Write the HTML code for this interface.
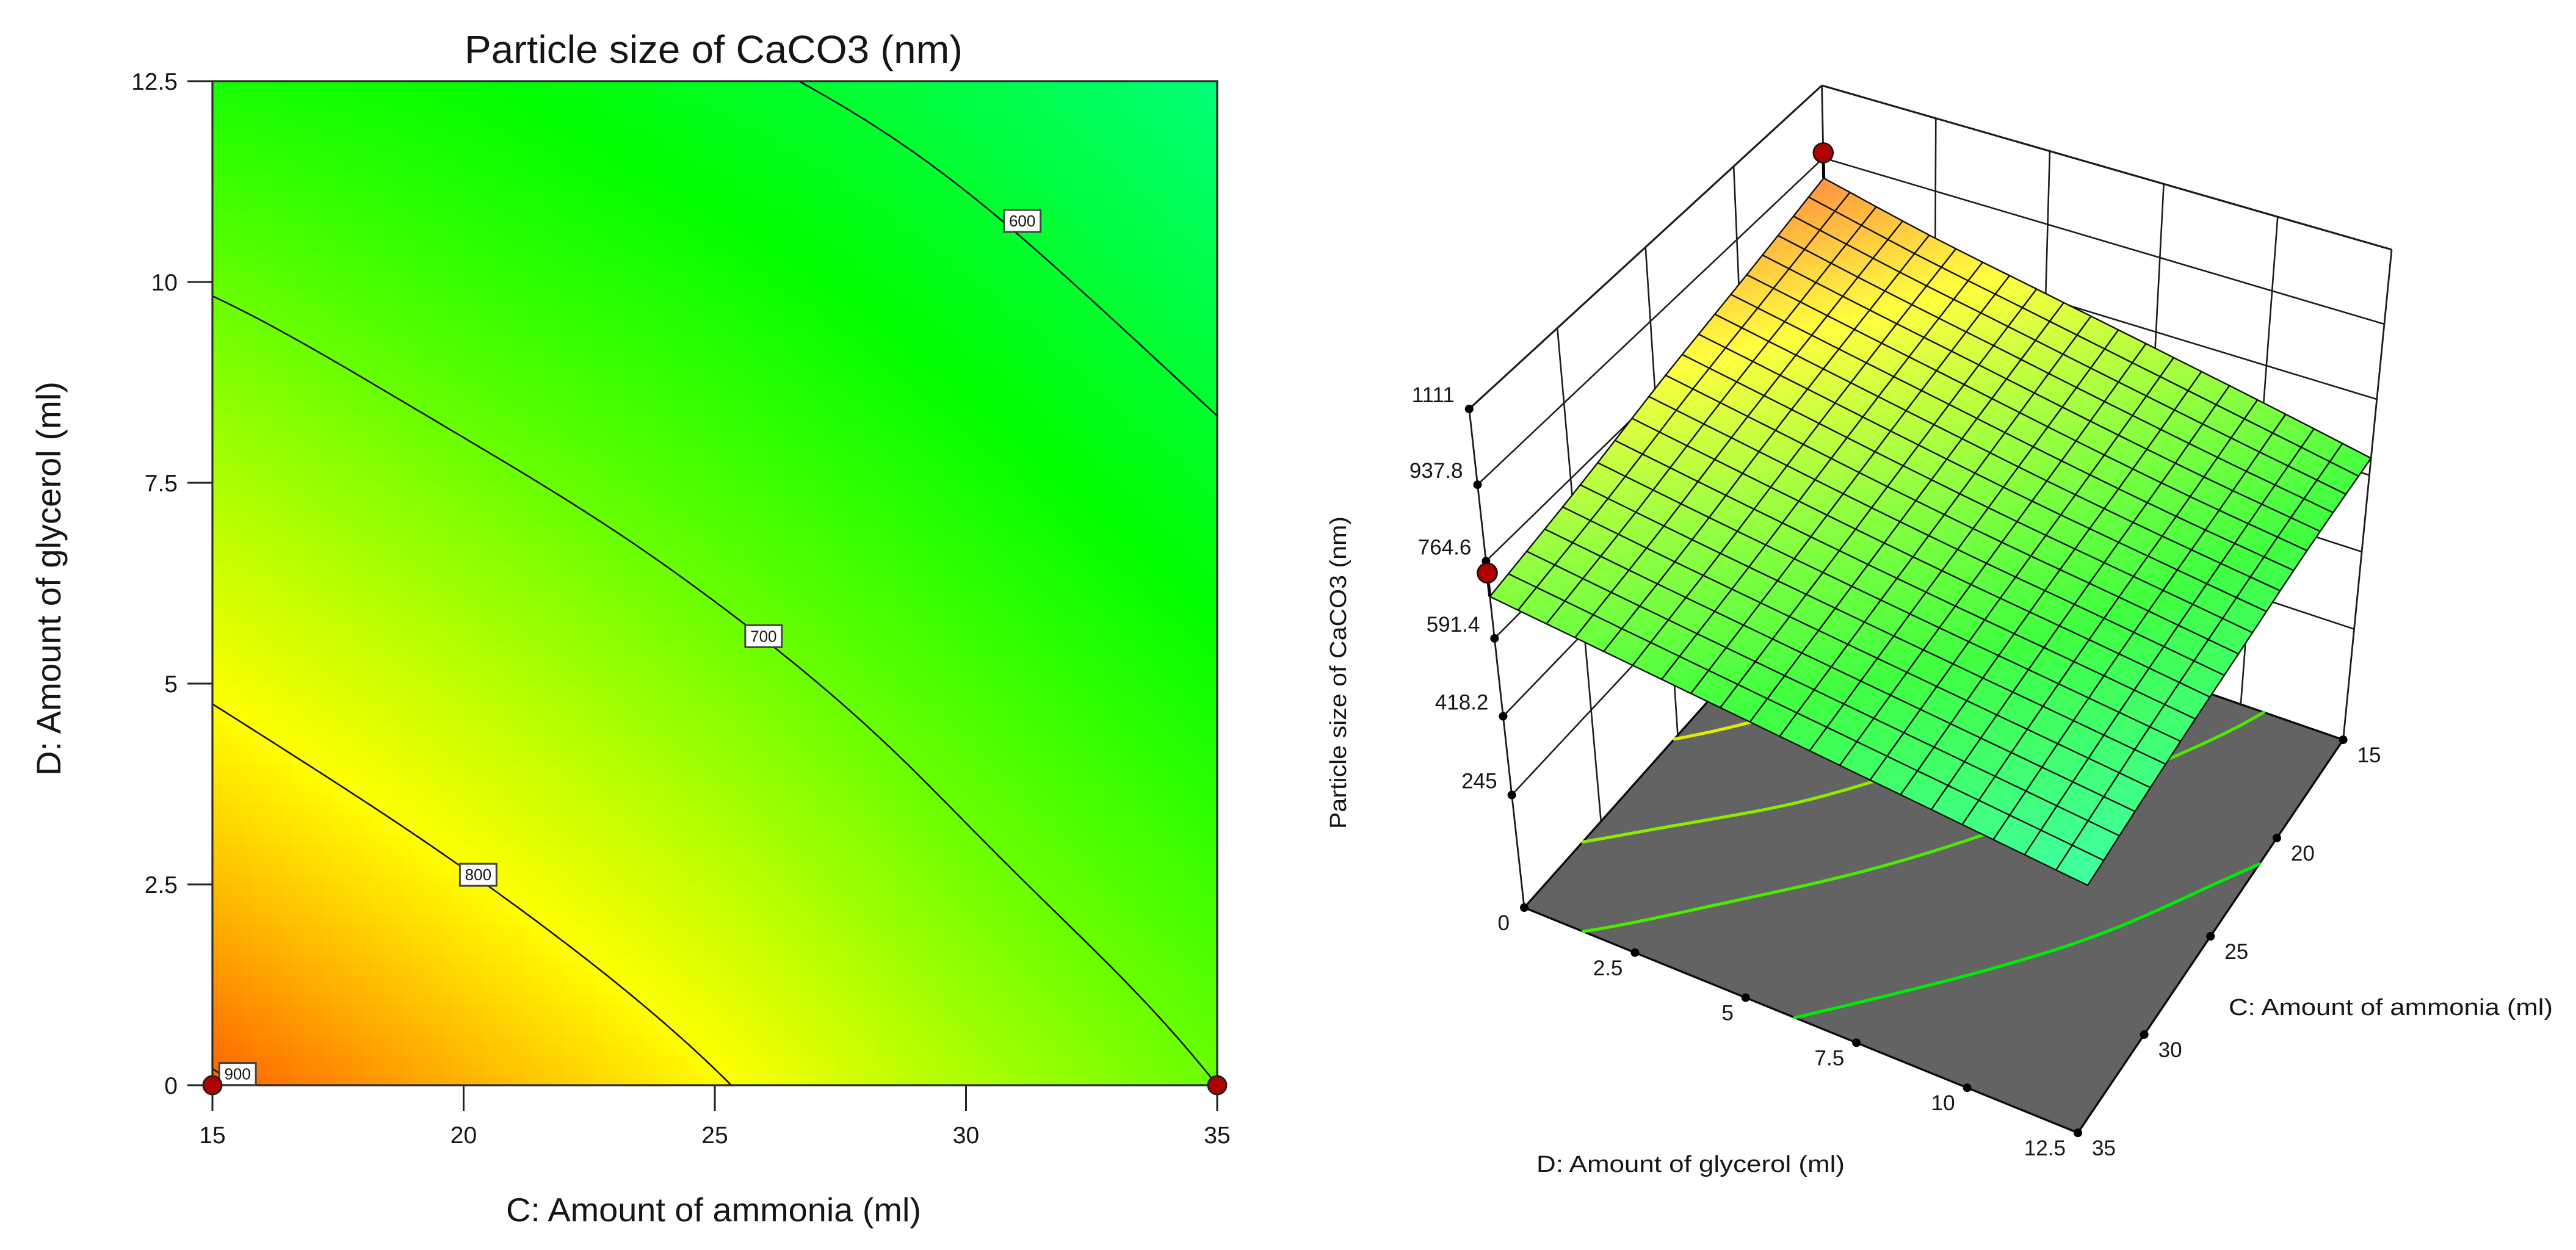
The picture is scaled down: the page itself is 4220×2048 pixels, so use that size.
<!DOCTYPE html>
<html lang="en">
<head>
<meta charset="utf-8">
<title>Particle size of CaCO3 response surface</title>
<style>
  html, body { margin: 0; padding: 0; background: #fff; }
  svg { display: block; }
  text { font-family: "Liberation Sans", sans-serif; fill: #151515; }
</style>
</head>
<body>
<svg id="chart" xmlns="http://www.w3.org/2000/svg" width="4220" height="2048" viewBox="0 0 4220 2048">
  <g id="contour-plot"></g>
  <g id="surface-plot"></g>
  <text x="761" y="103" font-size="64" textLength="816" lengthAdjust="spacingAndGlyphs">Particle size of CaCO3 (nm)</text>
  <text x="829" y="2001" font-size="55" textLength="680" lengthAdjust="spacingAndGlyphs">C: Amount of ammonia (ml)</text>
  <text transform="translate(99 1271) rotate(-90)" font-size="56" textLength="646" lengthAdjust="spacingAndGlyphs">D: Amount of glycerol (ml)</text>
  <text x="2517" y="1920" font-size="38" textLength="505" lengthAdjust="spacingAndGlyphs">D: Amount of glycerol (ml)</text>
  <text x="3651" y="1663" font-size="38" textLength="531" lengthAdjust="spacingAndGlyphs">C: Amount of ammonia (ml)</text>
  <text transform="translate(2205 1358) rotate(-90)" font-size="38" textLength="512" lengthAdjust="spacingAndGlyphs">Particle size of CaCO3 (nm)</text>
</svg>
<script>
// ---- data ----
const cValues = [15, 20, 25, 30, 35];
const dValues = [0, 2.5, 5, 7.5, 10, 12.5];
const sizeAtD0    = [905, 852.6, 803.5, 747, 700];
const sizeAtD2_5  = [845, 803.8, 760, 710.5, 670];
const sizeAtD5    = [795, 756.9, 716.5, 677, 640];
const sizeAtD7_5  = [746, 710, 677.5, 645, 610];
const sizeAtD10   = [696.5, 667.5, 643.5, 614, 580];
const sizeAtD12_5 = [645, 632, 608, 583, 550];
const sizeGrid = [sizeAtD0, sizeAtD2_5, sizeAtD5, sizeAtD7_5, sizeAtD10, sizeAtD12_5];
const cTickLabels = ["15", "20", "25", "30", "35"];
const dTickValues = [0, 2.5, 5, 7.5, 10, 12.5];
const dTickLabels = ["0", "2.5", "5", "7.5", "10", "12.5"];
const zTickValues = [0, 245, 418.2, 591.4, 764.6, 937.8, 1111];
const zTickLabels = ["0", "245", "418.2", "591.4", "764.6", "937.8", "1111"];
const contourLevels = [900, 800, 700, 600];
const contourLabelC = [15.5, 20.29, 25.97, 31.12];
const contourLabelD = [0.14, 2.62, 5.59, 10.76];
const floorLevels = [795, 732, 683, 624];
const designC = [15, 35];
const designD = [0, 0];
const designSize = [965, 753];
const colorLevels = [970, 800, 630, 460];

// ---- shared helpers ----
const NS = 'http://www.w3.org/2000/svg';
function add(parent, tag, attrs, txt) {
  const el = document.createElementNS(NS, tag);
  for (const k in attrs) el.setAttribute(k, attrs[k]);
  if (txt !== undefined) el.textContent = txt;
  parent.appendChild(el);
  return el;
}
const pts = a => a.map(p => p[0].toFixed(1) + ',' + p[1].toFixed(1)).join(' ');
const lerp2 = (a, b, t) => [a[0] + (b[0] - a[0]) * t, a[1] + (b[1] - a[1]) * t];
function spline(p0, p1, p2, p3, t) {
  return 0.5 * (2 * p1 + (p2 - p0) * t + (2 * p0 - 5 * p1 + 4 * p2 - p3) * t * t + (3 * p1 - p0 - 3 * p2 + p3) * t * t * t);
}
function gridValue(j, i) {
  const nj = sizeGrid.length, ni = cValues.length;
  const jj = Math.max(0, Math.min(nj - 1, j)), ii = Math.max(0, Math.min(ni - 1, i));
  let v = sizeGrid[jj][ii];
  if (j !== jj) v += (j - jj) * (sizeGrid[jj][ii] - sizeGrid[jj + (j < 0 ? 1 : -1)][ii]) * (j < 0 ? -1 : 1);
  if (i !== ii) v += (i - ii) * (sizeGrid[jj][ii] - sizeGrid[jj][ii + (i < 0 ? 1 : -1)]) * (i < 0 ? -1 : 1);
  return v;
}
function sizeAt(c, d) {
  const cs = (c - cValues[0]) / (cValues[1] - cValues[0]);
  const ds = (d - dValues[0]) / (dValues[1] - dValues[0]);
  const i = Math.max(0, Math.min(cValues.length - 2, Math.floor(cs)));
  const j = Math.max(0, Math.min(dValues.length - 2, Math.floor(ds)));
  const fc = cs - i, fd = ds - j;
  const rows = [];
  for (let r = -1; r <= 2; r++) {
    rows.push(spline(gridValue(j + r, i - 1), gridValue(j + r, i), gridValue(j + r, i + 1), gridValue(j + r, i + 2), fc));
  }
  return spline(rows[0], rows[1], rows[2], rows[3], fd);
}
const colorRamp = [[255, 0, 0], [255, 255, 0], [0, 255, 0], [0, 255, 255]];
function colorOf(z) {
  let k = 0;
  while (k < colorLevels.length - 2 && z < colorLevels[k + 1]) k++;
  let t = (colorLevels[k] - z) / (colorLevels[k] - colorLevels[k + 1]);
  t = Math.max(0, Math.min(1, t));
  return [0, 1, 2].map(n => colorRamp[k][n] + (colorRamp[k + 1][n] - colorRamp[k][n]) * t);
}
const css = c => 'rgb(' + c.map(v => Math.round(v)).join(',') + ')';
const cMin = cValues[0], cMax = cValues[cValues.length - 1];
const dMin = dValues[0], dMax = dValues[dValues.length - 1];
function contourPath(level, project) {
  const NC = 80, ND = 100;
  let path = '';
  for (let i = 0; i < NC; i++) {
    for (let j = 0; j < ND; j++) {
      const c0 = cMin + (cMax - cMin) * i / NC, c1 = cMin + (cMax - cMin) * (i + 1) / NC;
      const d0 = dMin + (dMax - dMin) * j / ND, d1 = dMin + (dMax - dMin) * (j + 1) / ND;
      const v = [[c0, d0], [c1, d0], [c1, d1], [c0, d1]];
      const z = v.map(p => sizeAt(p[0], p[1]));
      const hits = [];
      for (let e = 0; e < 4; e++) {
        const n = (e + 1) % 4;
        if ((z[e] >= level) !== (z[n] >= level)) {
          const t = (level - z[e]) / (z[n] - z[e]);
          hits.push(lerp2(v[e], v[n], t));
        }
      }
      if (hits.length >= 2) {
        const a = project(hits[0][0], hits[0][1]), b = project(hits[1][0], hits[1][1]);
        path += 'M' + a[0].toFixed(1) + ' ' + a[1].toFixed(1) + 'L' + b[0].toFixed(1) + ' ' + b[1].toFixed(1);
      }
    }
  }
  return path;
}

// ---- left: contour plot ----
const gL = document.getElementById('contour-plot');
const xL = c => 348 + (c - cMin) / (cMax - cMin) * 1646;
const yL = d => 1778 - (d - dMin) / (dMax - dMin) * 1645;
const HEAT_N = 100;
for (let i = 0; i < HEAT_N; i++) {
  for (let j = 0; j < HEAT_N; j++) {
    const c0 = cMin + (cMax - cMin) * i / HEAT_N, c1 = cMin + (cMax - cMin) * (i + 1) / HEAT_N;
    const d0 = dMin + (dMax - dMin) * j / HEAT_N, d1 = dMin + (dMax - dMin) * (j + 1) / HEAT_N;
    const cell = add(gL, 'rect', {
      x: xL(c0).toFixed(2), y: yL(d1).toFixed(2),
      width: (xL(c1) - xL(c0) + 0.6).toFixed(2), height: (yL(d0) - yL(d1) + 0.6).toFixed(2),
      fill: css(colorOf(sizeAt((c0 + c1) / 2, (d0 + d1) / 2))), 'shape-rendering': 'crispEdges'
    });
    
    
  }
}
contourLevels.forEach(level => {
  const line = add(gL, 'path', {
    d: contourPath(level, (c, d) => [xL(c), yL(d)]),
    fill: 'none', stroke: '#111', 'stroke-width': 2.6, 'stroke-linecap': 'round'
  });
  
  
});
const frame = add(gL, 'rect', { x: 348, y: 133, width: 1646, height: 1645, fill: 'none', stroke: '#2a2a2a', 'stroke-width': 3.2 });


cValues.forEach((c, i) => {
  const tick = add(gL, 'line', { x1: xL(c), x2: xL(c), y1: 1778, y2: 1820, stroke: '#222', 'stroke-width': 3 });
  
  
  const label = add(gL, 'text', { x: xL(c), y: 1873, 'font-size': 39, 'text-anchor': 'middle' }, cTickLabels[i]);
  
  
});
dTickValues.forEach((d, i) => {
  const tick = add(gL, 'line', { x1: 307, x2: 348, y1: yL(d), y2: yL(d), stroke: '#222', 'stroke-width': 3 });
  
  
  const label = add(gL, 'text', { x: 291, y: yL(d) + 14, 'font-size': 39, 'text-anchor': 'end' }, dTickLabels[i]);
  
  
});
contourLevels.forEach((level, i) => {
  const cx = xL(contourLabelC[i]), cy = yL(contourLabelD[i]);
  const box = add(gL, 'rect', { x: cx - 30, y: cy - 18, width: 60, height: 36, fill: '#fff', stroke: '#444', 'stroke-width': 3 });
  
  
  const label = add(gL, 'text', { x: cx, y: cy + 9, 'font-size': 26, 'text-anchor': 'middle' }, String(level));
  
  
});
designC.forEach((c, i) => {
  const dot = add(gL, 'circle', { cx: xL(c), cy: yL(designD[i]), r: 15, fill: '#b00000', stroke: '#222', 'stroke-width': 3 });
  
  
});

// ---- right: 3D surface ----
const gS = document.getElementById('surface-plot');
function quadMap(p0, p1, p2, p3) {
  const dx1 = p1[0] - p2[0], dx2 = p3[0] - p2[0], sx = p0[0] - p1[0] + p2[0] - p3[0];
  const dy1 = p1[1] - p2[1], dy2 = p3[1] - p2[1], sy = p0[1] - p1[1] + p2[1] - p3[1];
  const det = dx1 * dy2 - dx2 * dy1;
  const g = (sx * dy2 - dx2 * sy) / det, h = (dx1 * sy - sx * dy1) / det;
  const a = p1[0] - p0[0] + g * p1[0], b = p3[0] - p0[0] + h * p3[0];
  const d = p1[1] - p0[1] + g * p1[1], e = p3[1] - p0[1] + h * p3[1];
  return (u, v) => {
    const w = g * u + h * v + 1;
    return [(a * u + b * v + p0[0]) / w, (d * u + e * v + p0[1]) / w];
  };
}
const floorLeft = [2497, 1487], floorFront = [3404, 1856], floorRight = [3838.6, 1212], floorBack = [3000, 922];
const topLeft = [2406.8, 670], topFront = [3437, 1027], topRight = [3918, 409], topBack = [2984.6, 140];
const floorMap = quadMap(floorLeft, floorFront, floorRight, floorBack);
const topMap = quadMap(topLeft, topFront, topRight, topBack);
const zMax = zTickValues[zTickValues.length - 1];
function zFrac(z) { const s = z / zMax; return s / (s + 0.97 * (1 - s)); }
const uOf = d => (d - dMin) / (dMax - dMin);
const vOf = c => (cMax - c) / (cMax - cMin);
const floorPoint = (c, d) => floorMap(uOf(d), vOf(c));
function point3(c, d, z) {
  const u = uOf(d), v = vOf(c);
  return lerp2(floorMap(u, v), topMap(u, v), zFrac(z));
}
const SURFACE_DROP = 15;
const SURFACE_COLOR_SHIFT = 8;
const surfacePoint = (c, d) => point3(c, d, sizeAt(c, d) - SURFACE_DROP);

// floor
const floorPoly = add(gS, 'polygon', { points: pts([floorLeft, floorFront, floorRight, floorBack]), fill: '#636363', stroke: '#0c0c0c', 'stroke-width': 3.4, 'stroke-linejoin': 'round' });


floorLevels.forEach(level => {
  const col = colorOf(level).map(v => v * 0.92);
  const line = add(gS, 'path', { d: contourPath(level, floorPoint), fill: 'none', stroke: css(col), 'stroke-width': 5, 'stroke-linecap': 'round' });
  
  
});

// wall lines
function wallLine(a, b, w, name) {
  const l = add(gS, 'line', { x1: a[0], y1: a[1], x2: b[0], y2: b[1], stroke: '#1c1c1c', 'stroke-width': w });
  
  
}
const leftNode = z => lerp2(floorLeft, topLeft, zFrac(z));
const backNode = z => lerp2(floorBack, topBack, zFrac(z));
const rightNode = z => lerp2(floorRight, topRight, zFrac(z));
zTickValues.slice(1).forEach(z => {
  wallLine(leftNode(z), backNode(z), z === zMax ? 3.2 : 2.6, 'left-wall-gridline');
  wallLine(backNode(z), rightNode(z), z === zMax ? 3.2 : 2.6, 'right-wall-gridline');
});
cValues.slice(1, -1).forEach(c => {
  const f = (cMax - c) / (cMax - cMin);
  wallLine(lerp2(floorLeft, floorBack, f), lerp2(topLeft, topBack, f), 2.6, 'left-wall-vertical');
});
dTickValues.slice(1, -1).forEach(d => {
  const f = uOf(d);
  wallLine(lerp2(floorBack, floorRight, f), lerp2(topBack, topRight, f), 2.6, 'right-wall-vertical');
});
wallLine(floorLeft, topLeft, 2.8, 'z-axis-line');
wallLine(floorBack, topBack, 2.8, 'back-axis-line');
wallLine(floorRight, topRight, 2.8, 'right-axis-line');

// surface
const MESH = 20, SUB = 3;
for (let i = 0; i < MESH * SUB; i++) {
  for (let j = 0; j < MESH * SUB; j++) {
    const c0 = cMin + (cMax - cMin) * i / (MESH * SUB), c1 = cMin + (cMax - cMin) * (i + 1) / (MESH * SUB);
    const d0 = dMin + (dMax - dMin) * j / (MESH * SUB), d1 = dMin + (dMax - dMin) * (j + 1) / (MESH * SUB);
    const col = css(colorOf(sizeAt((c0 + c1) / 2, (d0 + d1) / 2) - SURFACE_COLOR_SHIFT).map(v => v * 0.75 + 64));
    const poly = add(gS, 'polygon', {
      points: pts([surfacePoint(c0, d0), surfacePoint(c1, d0), surfacePoint(c1, d1), surfacePoint(c0, d1)]),
      fill: col, stroke: col, 'stroke-width': 1
    });
    
    
  }
}
for (let i = 0; i <= MESH; i++) {
  const c = cMin + (cMax - cMin) * i / MESH, d = dMin + (dMax - dMin) * i / MESH;
  const alongD = [], alongC = [];
  for (let j = 0; j <= MESH; j++) {
    alongD.push(surfacePoint(c, dMin + (dMax - dMin) * j / MESH));
    alongC.push(surfacePoint(cMin + (cMax - cMin) * j / MESH, d));
  }
  const l1 = add(gS, 'polyline', { points: pts(alongD), fill: 'none', stroke: '#111', 'stroke-width': 2.4 });
  
  
  const l2 = add(gS, 'polyline', { points: pts(alongC), fill: 'none', stroke: '#111', 'stroke-width': 2.4 });
  
  
}

// tick nodes and labels
function node(p, name) {
  const n = add(gS, 'circle', { cx: p[0], cy: p[1], r: 7, fill: '#000' });
  
  
}
function tickText(x, y, anchor, str, name) {
  const t = add(gS, 'text', { x: x, y: y, 'font-size': 35, 'text-anchor': anchor }, str);
  
  
}
zTickValues.forEach((z, i) => {
  const p = leftNode(z);
  node(p, 'z-tick-node');
  tickText(p[0] - 24, z === 0 ? p[1] + 37 : p[1] - 11, 'end', zTickLabels[i], 'z-tick-label');
});
dTickValues.slice(1).forEach((d, i) => {
  const p = lerp2(floorLeft, floorFront, uOf(d));
  node(p, 'd-tick-node');
  tickText(p[0] - 20, p[1] + 37, 'end', dTickLabels[i + 1], 'd-tick-label');
});
cValues.forEach((c, i) => {
  const p = lerp2(floorRight, floorFront, (c - cMin) / (cMax - cMin));
  node(p, 'c-tick-node');
  tickText(p[0] + 23, p[1] + 37, 'start', cTickLabels[i], 'c-tick-label');
});

// design points with stems
designC.forEach((c, i) => {
  const d = designD[i];
  const top = point3(c, d, designSize[i] - SURFACE_DROP);
  const bottom = surfacePoint(c, d);
  const stem = add(gS, 'line', { x1: top[0], y1: top[1], x2: bottom[0], y2: bottom[1], stroke: '#000', 'stroke-width': 5 });
  
  
  const dot = add(gS, 'circle', { cx: top[0], cy: top[1], r: 16, fill: '#b00000', stroke: '#111', 'stroke-width': 2.6 });
  
  
});
</script>
</body>
</html>
